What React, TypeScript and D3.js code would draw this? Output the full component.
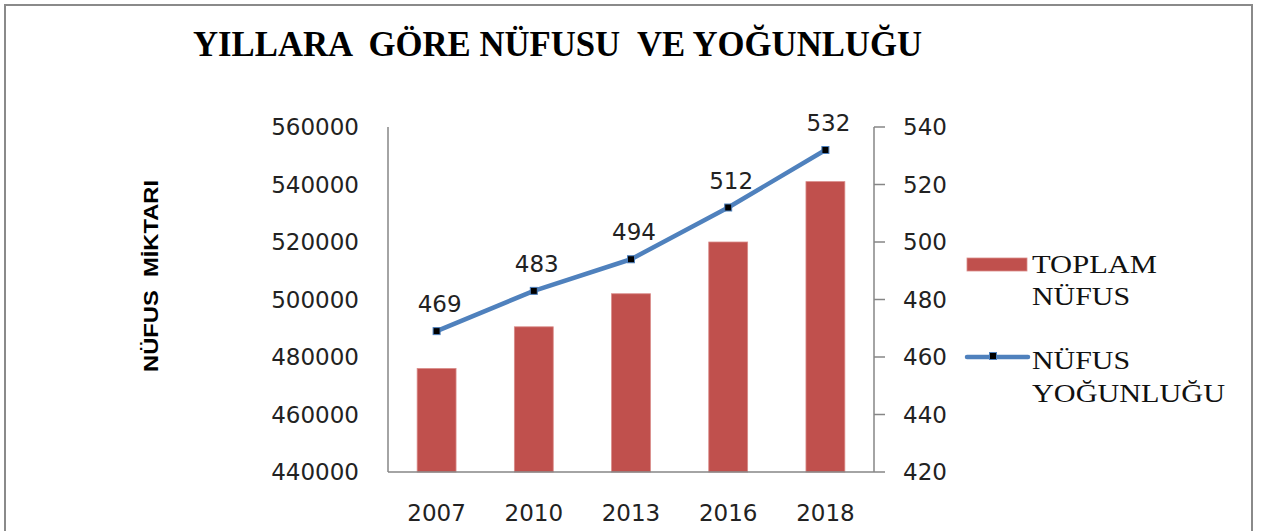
import React from "react";
import * as d3 from "d3";

const years = ["2007", "2010", "2013", "2016", "2018"];
const totalPopulation = [476000, 490500, 502000, 520000, 541000];
const density = [469, 483, 494, 512, 532];
const leftTicks = [440000, 460000, 480000, 500000, 520000, 540000, 560000];
const rightTicks = [420, 440, 460, 480, 500, 520, 540];

const title = "YILLARA  GÖRE NÜFUSU  VE YOĞUNLUĞU";
const yAxisTitle = "NÜFUS  MİKTARI";
const legendBar = ["TOPLAM", "NÜFUS"];
const legendLine = ["NÜFUS", "YOĞUNLUĞU"];

const W = 1262;
const H = 531;
const plot = { left: 388, right: 874, top: 127, bottom: 472 };

const numFont = "'DejaVu Sans', Verdana, sans-serif";
const serif = "'Liberation Serif', 'Times New Roman', serif";
const axisColor = "#868686";
const barColor = "#C0504D";
const lineColor = "#4F81BD";

export default function App() {
  const x = d3
    .scaleBand<string>()
    .domain(years)
    .range([plot.left, plot.right])
    .paddingInner(0.6)
    .paddingOuter(0.3);
  const yL = d3.scaleLinear().domain([440000, 560000]).range([plot.bottom, plot.top]);
  const yR = d3.scaleLinear().domain([420, 540]).range([plot.bottom, plot.top]);

  const pts = years.map((yr, i) => [x(yr)! + x.bandwidth() / 2, yR(density[i])] as [number, number]);
  const line = d3.line()(pts) || "";

  return (
    <svg
      width={W}
      height={H}
      style={{ position: "absolute", left: 0, top: 0, background: "#fff" }}
    >
      <rect x={0} y={0} width={W} height={H} fill="#fff" />
      {/* outer border */}
      <rect x={5} y={5} width={1247} height={560} fill="none" stroke="#8a8a8a" strokeWidth={2} />

      {/* title */}
      <text
        x={193}
        y={56}
        fontFamily={serif}
        fontWeight="bold"
        fontSize={35}
        textLength={729}
        lengthAdjust="spacingAndGlyphs"
        style={{ whiteSpace: "pre" }}
        fill="#000"
      >
        {title}
      </text>

      {/* y axis title */}
      <text
        transform={`translate(158,276) rotate(-90)`}
        textAnchor="middle"
        fontFamily="'Liberation Sans', Arial, sans-serif"
        fontWeight="bold"
        fontSize={21}
        textLength={192}
        lengthAdjust="spacingAndGlyphs"
        style={{ whiteSpace: "pre" }}
        fill="#000"
      >
        {yAxisTitle}
      </text>

      {/* bars */}
      {years.map((yr, i) => (
        <rect
          key={yr}
          x={x(yr)}
          y={yL(totalPopulation[i])}
          width={x.bandwidth()}
          height={plot.bottom - yL(totalPopulation[i])}
          fill={barColor}
          stroke="#d98a88"
          strokeWidth={0.8}
        />
      ))}

      {/* axes */}
      <line x1={plot.left} y1={plot.top} x2={plot.left} y2={plot.bottom} stroke={axisColor} strokeWidth={1.5} />
      <line x1={plot.left} y1={plot.bottom} x2={plot.right} y2={plot.bottom} stroke={axisColor} strokeWidth={1.5} />
      <line x1={plot.right} y1={plot.top} x2={plot.right} y2={plot.bottom} stroke={axisColor} strokeWidth={1.5} />
      {rightTicks.map((t) => (
        <line key={t} x1={plot.right} x2={plot.right + 11} y1={yR(t)} y2={yR(t)} stroke={axisColor} strokeWidth={1.5} />
      ))}

      {/* left tick labels */}
      {leftTicks.map((t) => (
        <text
          key={t}
          x={359}
          y={yL(t)}
          dy="0.36em"
          textAnchor="end"
          fontFamily={numFont}
          fontSize={23}
          fill="#222"
        >
          {t}
        </text>
      ))}

      {/* right tick labels */}
      {rightTicks.map((t) => (
        <text
          key={t}
          x={903}
          y={yR(t)}
          dy="0.36em"
          textAnchor="start"
          fontFamily={numFont}
          fontSize={23}
          fill="#222"
        >
          {t}
        </text>
      ))}

      {/* x labels */}
      {years.map((yr) => (
        <text
          key={yr}
          x={x(yr)! + x.bandwidth() / 2}
          y={521}
          textAnchor="middle"
          fontFamily={numFont}
          fontSize={23}
          fill="#222"
        >
          {yr}
        </text>
      ))}

      {/* density line */}
      <path d={line} fill="none" stroke={lineColor} strokeWidth={4.5} strokeLinejoin="round" strokeLinecap="round" />
      {pts.map(([px, py], i) => (
        <rect key={i} x={px - 3.5} y={py - 3.5} width={7} height={7} fill="#000" stroke={lineColor} strokeWidth={1} />
      ))}
      {pts.map(([px, py], i) => (
        <text
          key={"l" + i}
          x={px + 3}
          y={py - 19}
          textAnchor="middle"
          fontFamily={numFont}
          fontSize={23}
          fill="#222"
        >
          {density[i]}
        </text>
      ))}

      {/* legend */}
      <rect x={967} y={258} width={60} height={13} fill={barColor} stroke="#d98a88" strokeWidth={0.8} />
      <text x={1032} y={273} fontFamily={serif} fontSize={26} textLength={125} lengthAdjust="spacingAndGlyphs" fill="#111">
        {legendBar[0]}
      </text>
      <text x={1032} y={305} fontFamily={serif} fontSize={26} textLength={98} lengthAdjust="spacingAndGlyphs" fill="#111">
        {legendBar[1]}
      </text>
      <line x1={967} x2={1028} y1={357} y2={357} stroke={lineColor} strokeWidth={4.5} strokeLinecap="round" />
      <rect x={989.5} y={352.5} width={7} height={7} fill="#000" stroke={lineColor} strokeWidth={1} />
      <text x={1032} y={369} fontFamily={serif} fontSize={26} textLength={98} lengthAdjust="spacingAndGlyphs" fill="#111">
        {legendLine[0]}
      </text>
      <text x={1032} y={402} fontFamily={serif} fontSize={26} textLength={193} lengthAdjust="spacingAndGlyphs" fill="#111">
        {legendLine[1]}
      </text>
    </svg>
  );
}
